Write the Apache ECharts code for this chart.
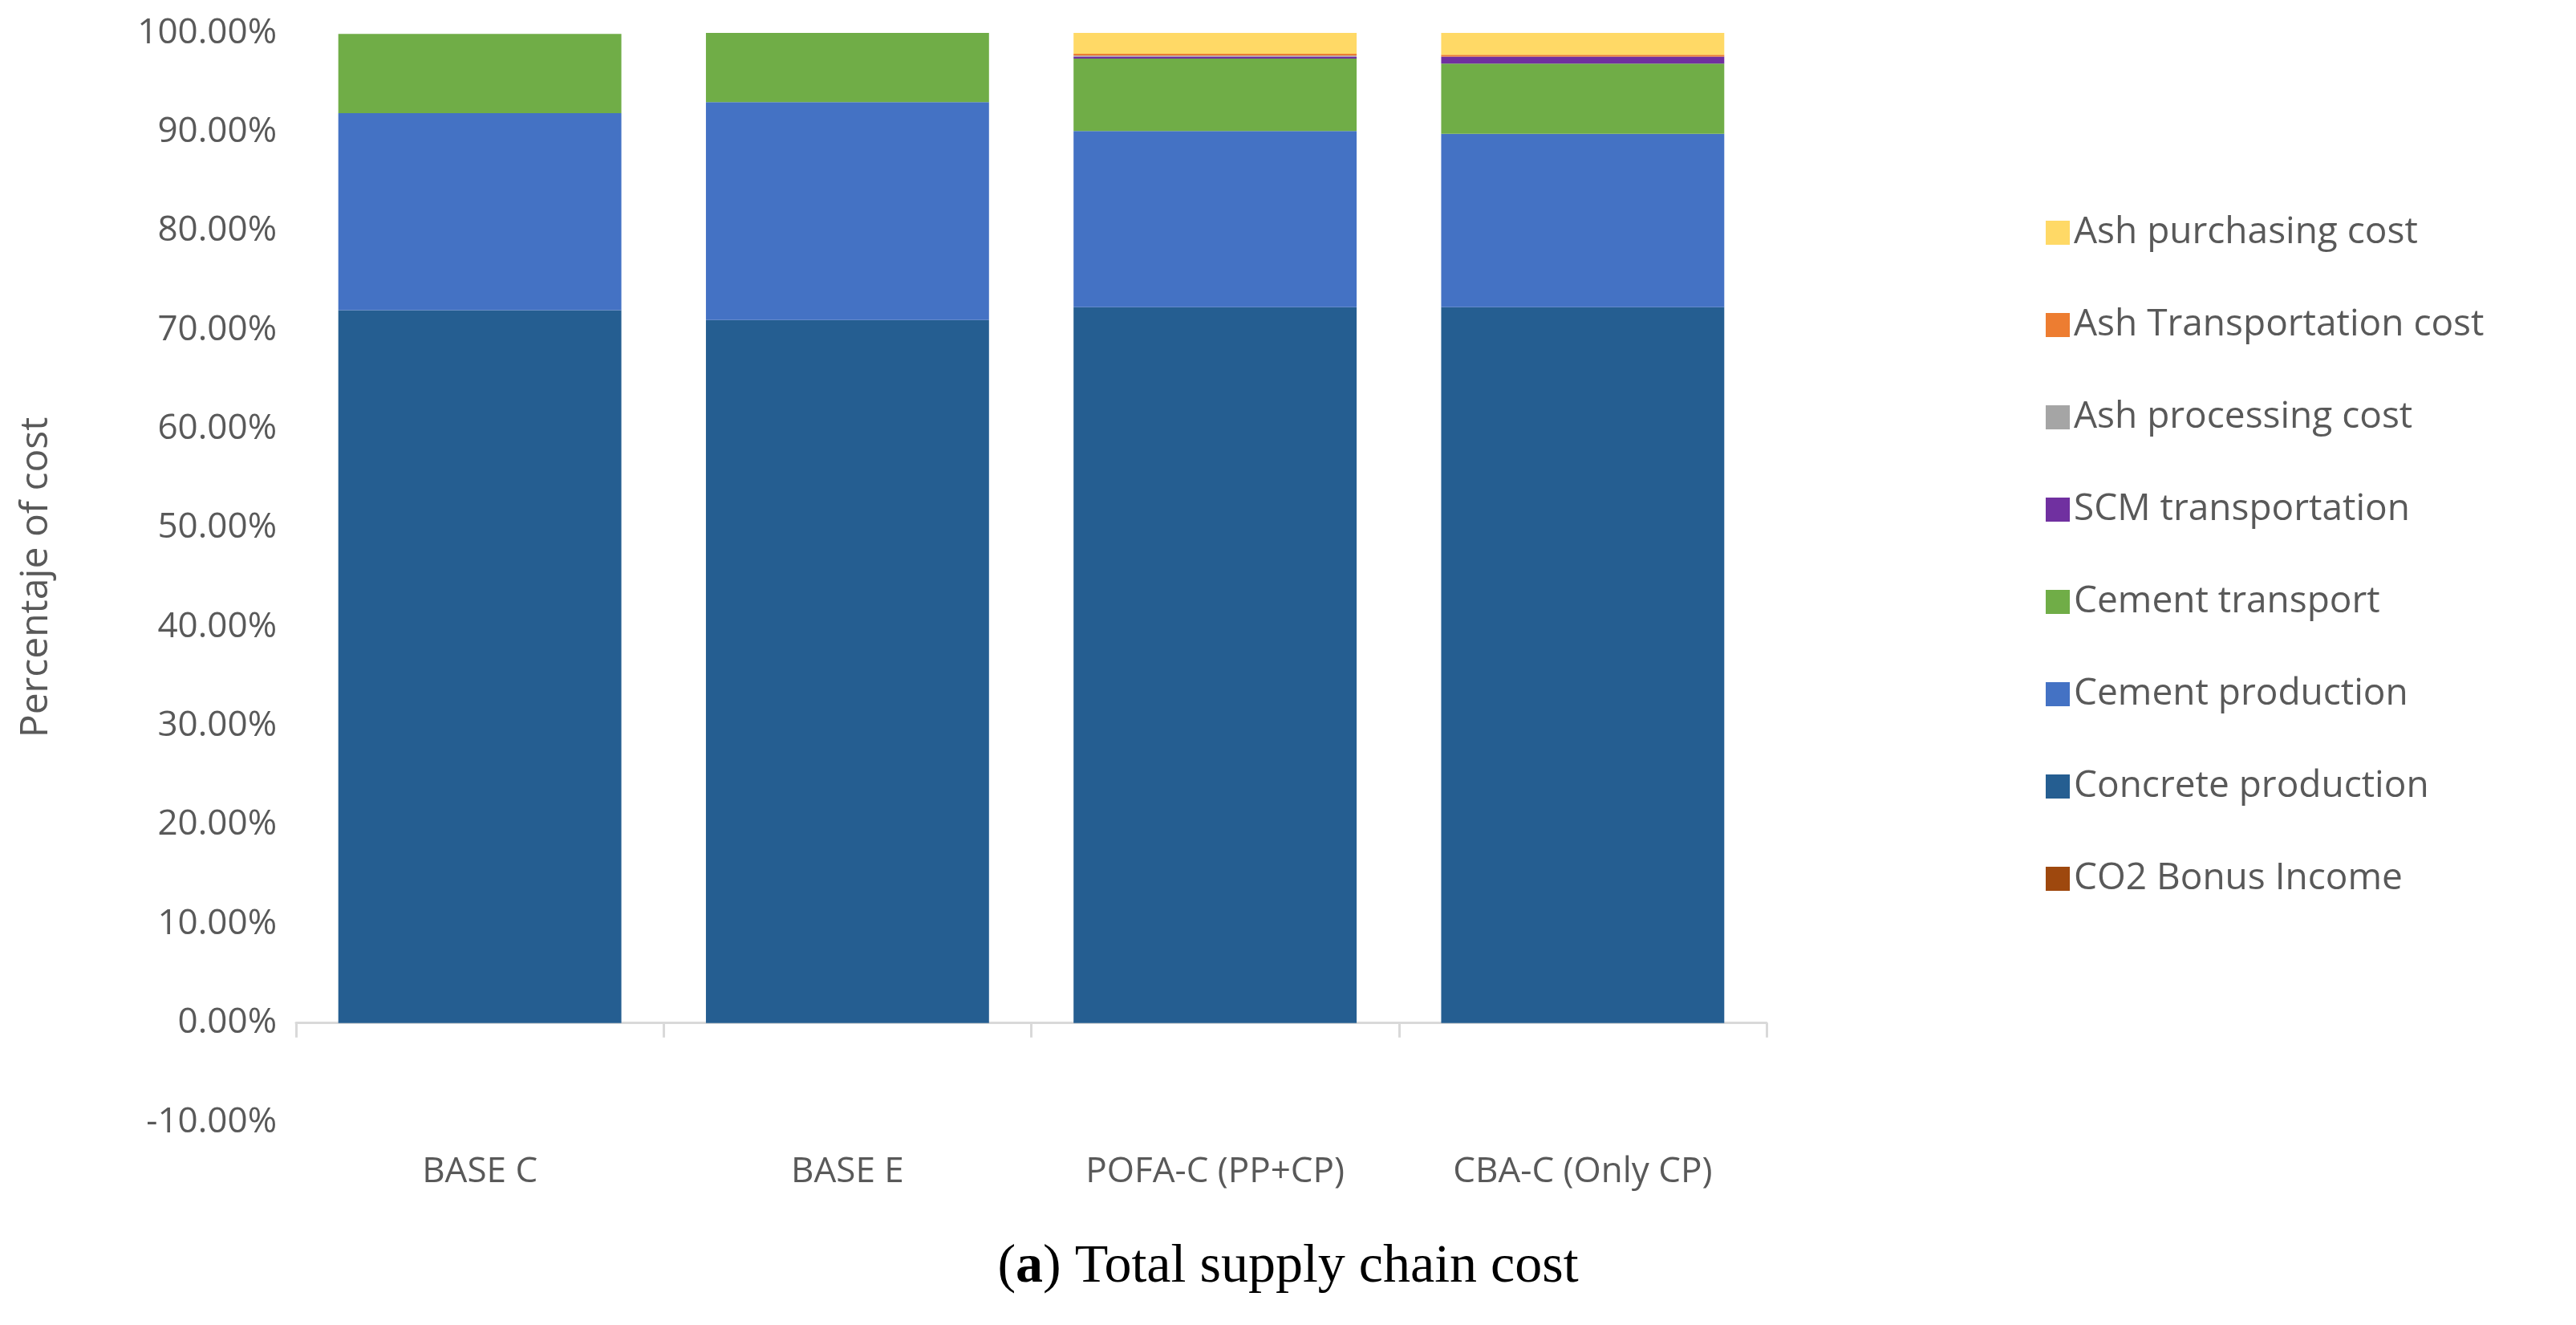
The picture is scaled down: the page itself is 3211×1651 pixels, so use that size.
<!DOCTYPE html>
<html><head><meta charset="utf-8">
<script src="https://cdn.jsdelivr.net/npm/echarts@6/dist/echarts.min.js"></script>
<style>html,body{margin:0;background:#fff}#c{width:3211px;height:1651px}</style>
</head><body><div id="c"></div>
<script>
const categories = ['BASE C','BASE E','POFA-C (PP+CP)','CBA-C (Only CP)'];
const co2Bonus = [0, 0, 0, 0];
const concreteProduction = [72.0, 71.0, 72.3, 72.3];
const cementProduction = [19.9, 22.0, 17.8, 17.5];
const cementTransport = [8.0, 7.0, 7.3, 7.1];
const scmTransportation = [0, 0, 0.2, 0.7];
const ashProcessing = [0, 0, 0.1, 0];
const ashTransportation = [0, 0, 0.2, 0.2];
const ashPurchasing = [0, 0, 2.1, 2.2];
const yTicks = [-10,0,10,20,30,40,50,60,70,80,90,100];

const seriesDefs = [
  ['CO2 Bonus Income', co2Bonus, '#9E480E'],
  ['Concrete production', concreteProduction, '#255E91'],
  ['Cement production', cementProduction, '#4472C4'],
  ['Cement transport', cementTransport, '#70AD47'],
  ['SCM transportation', scmTransportation, '#7030A0'],
  ['Ash processing cost', ashProcessing, '#A5A5A5'],
  ['Ash Transportation cost', ashTransportation, '#ED7D31'],
  ['Ash purchasing cost', ashPurchasing, '#FFD966']
];
const font = 'Open Sans';
const chart = echarts.init(document.getElementById('c'));
chart.setOption({
  animation:false,
  textStyle:{fontFamily:font},
  grid:{left:369,right:1009,top:41,bottom:253},
  legend:{
    orient:'vertical', left:2545, top:262, itemGap:69, itemWidth:30, itemHeight:30,
    icon:'rect', textStyle:{fontSize:46,color:'#595959',fontFamily:font},
    data: seriesDefs.map(s=>s[0]).reverse()
  },
  xAxis:{type:'category',data:categories,
    axisLine:{lineStyle:{color:'#D9D9D9',width:3}},
    axisTick:{show:true,length:18,lineStyle:{color:'#D9D9D9',width:3}},
    axisLabel:{fontSize:44,color:'#595959',margin:40}},
  yAxis:{type:'value',min:-10,max:100,interval:10,
    name:'Percentaje of cost',nameLocation:'middle',nameGap:300,nameRotate:90,
    nameTextStyle:{fontSize:48,color:'#595959'},
    splitLine:{show:false},
    axisLabel:{fontSize:44,color:'#595959',margin:24,formatter:v=>v.toFixed(2)+'%'}},
  series: seriesDefs.map(s=>({name:s[0],type:'bar',stack:'a',data:s[1],barCategoryGap:'23%',
    itemStyle:{color:s[2]}})),
  graphic:[{type:'text',left:'center',top:1545,style:{
    rich:{b:{font:'bold 68px "Liberation Serif"',fill:'#000'},n:{font:'68px "Liberation Serif"',fill:'#000'}},
    text:'{n|(}{b|a}{n|) Total supply chain cost}'}, x:0}]
});
</script></body></html>
